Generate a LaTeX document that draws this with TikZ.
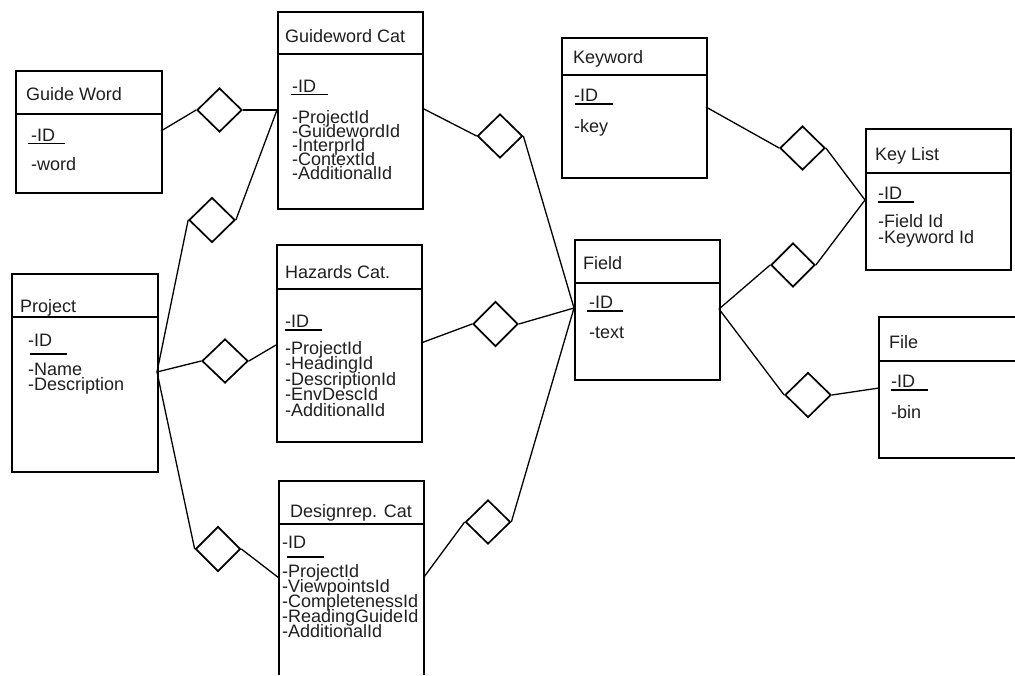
\documentclass[tikz,border=0pt]{standalone}
\usepackage{fontspec}
\setmainfont{Liberation Sans}
\usetikzlibrary{shapes.geometric}
\begin{document}
\begin{tikzpicture}[x=1pt,y=-1pt,
  box/.style={draw=black,line width=1.6pt,rectangle,inner sep=0pt,anchor=north west},
  divline/.style={draw=black,line width=1.4pt},
  rel/.style={draw=black,line width=1.7pt,shape=diamond,aspect=1,inner sep=0pt,minimum width=45pt,minimum height=45pt},
  conn/.style={draw=black,line width=1.3pt},
  ttl/.style={anchor=base west,inner sep=0pt,font=\fontsize{18}{18}\selectfont,text=black!88},
  attr/.style={anchor=base west,inner sep=0pt,font=\fontsize{18}{18}\selectfont,text=black!88},
  uline/.style={draw=black,line width=1.2pt}]
\useasboundingbox[fill=white] (0,0) rectangle (1015,675);

% ---------- Guide Word ----------
\node[box,minimum width=146pt,minimum height=122pt] (gw) at (15,70) {};
\draw[divline] (15,114) -- (161,114);
\node[ttl] (gwT) at (26,100) {Guide Word};
\node[attr] (gwA1) at (31,141) {-ID};
\draw[uline] (28,143.5) -- (65,143.5);
\node[attr] (gwA2) at (31,170) {-word};

% ---------- Guideword Cat ----------
\node[box,minimum width=145pt,minimum height=197pt] (gc) at (277,11) {};
\draw[divline] (277,54) -- (422,54);
\node[ttl] (gcT) at (285,42) {Guideword Cat};
\node[attr] (gcA0) at (292,92) {-ID};
\draw[uline] (291,94.5) -- (328,94.5);
\node[attr] (gcA1) at (292,123) {-ProjectId};
\node[attr] (gcA2) at (292,137) {-GuidewordId};
\node[attr] (gcA3) at (292,151) {-InterprId};
\node[attr] (gcA4) at (292,165) {-ContextId};
\node[attr] (gcA5) at (292,179) {-AdditionalId};

% ---------- Project ----------
\node[box,minimum width=146pt,minimum height=198pt] (pr) at (11,273) {};
\draw[divline] (11,317) -- (157,317);
\node[ttl] (prT) at (20,312) {Project};
\node[attr] (prA0) at (28,346) {-ID};
\draw[uline] (30,354) -- (67,354);
\node[attr] (prA1) at (28,375) {-Name};
\node[attr] (prA2) at (28,390) {-Description};

% ---------- Hazards Cat. ----------
\node[box,minimum width=145pt,minimum height=197pt] (hz) at (276,244) {};
\draw[divline] (276,289) -- (421,289);
\node[ttl] (hzT) at (285,278) {Hazards Cat.};
\node[attr] (hzA0) at (285,327) {-ID};
\draw[uline] (285,330) -- (322,330);
\node[attr] (hzA1) at (285,354) {-ProjectId};
\node[attr] (hzA2) at (285,369.5) {-HeadingId};
\node[attr] (hzA3) at (285,385) {-DescriptionId};
\node[attr] (hzA4) at (285,400.5) {-EnvDescId};
\node[attr] (hzA5) at (285,416) {-AdditionalId};

% ---------- Designrep. Cat ----------
\coordinate (drBL) at (279,675);
\coordinate (drTL) at (279,481);
\coordinate (drTR) at (424,481);
\coordinate (drBR) at (424,675);
\draw[line width=1.6pt] (drBL) -- (drTL) -- (drTR) -- (drBR);
\draw[divline] (279,524) -- (424,524);
\node[ttl] (drT) at (290,517) {Designrep. Cat};
\node[attr] (drA0) at (282,548) {-ID};
\draw[uline] (287,557) -- (324,557);
\node[attr] (drA1) at (282,577) {-ProjectId};
\node[attr] (drA2) at (282,592) {-ViewpointsId};
\node[attr] (drA3) at (282,607) {-CompletenessId};
\node[attr] (drA4) at (282,622) {-ReadingGuideId};
\node[attr] (drA5) at (282,637) {-AdditionalId};

% ---------- Keyword ----------
\node[box,minimum width=145pt,minimum height=140pt] (kw) at (561,37) {};
\draw[divline] (561,75) -- (706,75);
\node[ttl] (kwT) at (573,63) {Keyword};
\node[attr] (kwA0) at (574,101) {-ID};
\draw[uline] (575,104) -- (613,104);
\node[attr] (kwA1) at (574,132) {-key};

% ---------- Field ----------
\node[box,minimum width=145pt,minimum height=140pt] (fd) at (574,239) {};
\draw[divline] (574,283) -- (719,283);
\node[ttl] (fdT) at (583,269) {Field};
\node[attr] (fdA0) at (589,308) {-ID};
\draw[uline] (587,311) -- (623,311);
\node[attr] (fdA1) at (589,338) {-text};

% ---------- Key List ----------
\node[box,minimum width=145pt,minimum height=141pt] (kl) at (865,128) {};
\draw[divline] (865,173) -- (1010,173);
\node[ttl] (klT) at (875,160) {Key List};
\node[attr] (klA0) at (878,199) {-ID};
\draw[uline] (878,202) -- (914,202);
\node[attr] (klA1) at (878,227) {-Field Id};
\node[attr] (klA2) at (878,243) {-Keyword Id};

% ---------- File ----------
\coordinate (fiTR) at (1016,317);
\coordinate (fiTL) at (879,317);
\coordinate (fiBL) at (879,458);
\coordinate (fiBR) at (1016,458);
\draw[line width=1.6pt] (fiTR) -- (fiTL) -- (fiBL) -- (fiBR);
\draw[divline] (879,361) -- (1015,361);
\node[ttl] (fiT) at (889,348) {File};
\node[attr] (fiA0) at (891,387) {-ID};
\draw[uline] (891,390) -- (928,390);
\node[attr] (fiA1) at (891,418) {-bin};

% ---------- relationship diamonds ----------
\node[rel,minimum height=44pt] (d1) at (219.5,110) {};
\node[rel,minimum width=46pt] (d2) at (212,220) {};
\node[rel,minimum width=46pt,minimum height=44pt] (d3) at (225,361) {};
\node[rel] (d4) at (218,549) {};
\node[rel,minimum height=44pt] (d5) at (500,136) {};
\node[rel] (d6) at (495.5,324) {};
\node[rel,minimum height=44pt] (d7) at (488,522) {};
\node[rel,minimum width=44pt,minimum height=44pt] (d8) at (793,265) {};
\node[rel,minimum width=46pt] (d9) at (808,395) {};
\node[rel,minimum height=44pt] (d10) at (802.5,148) {};

% ---------- attachment points ----------
\coordinate (gwR) at (161,131);
\coordinate (gcL) at (277,110);
\coordinate (gcR) at (422,108);
\coordinate (prR) at (157,372);
\coordinate (hzL) at (276,345);
\coordinate (hzR) at (421,343);
\coordinate (drL) at (279,578);
\coordinate (drR) at (424,577);
\coordinate (fdL) at (574,308);
\coordinate (fdR) at (719,309);
\coordinate (kwR) at (706,107);
\coordinate (klL) at (865,200);
\coordinate (fiL) at (879,388);

% ---------- connectors ----------
\draw[conn] (gwR) -- (d1.west);
\draw[conn] (d1.east) -- (gcL);
\draw[conn] (d2.east) -- (gcL);
\draw[conn] (d2.west) -- (prR);
\draw[conn] (prR) -- (d3.west);
\draw[conn] (d3.east) -- (hzL);
\draw[conn] (prR) -- (d4.west);
\draw[conn] (d4.east) -- (drL);
\draw[conn] (gcR) -- (d5.west);
\draw[conn] (d5.east) -- (fdL);
\draw[conn] (hzR) -- (d6.west);
\draw[conn] (d6.east) -- (fdL);
\draw[conn] (drR) -- (d7.west);
\draw[conn] (d7.east) -- (fdL);
\draw[conn] (kwR) -- (d10.west);
\draw[conn] (d10.east) -- (klL);
\draw[conn] (fdR) -- (d8.west);
\draw[conn] (d8.east) -- (klL);
\draw[conn] (fdR) -- (d9.west);
\draw[conn] (d9.east) -- (fiL);
\end{tikzpicture}
\end{document}
